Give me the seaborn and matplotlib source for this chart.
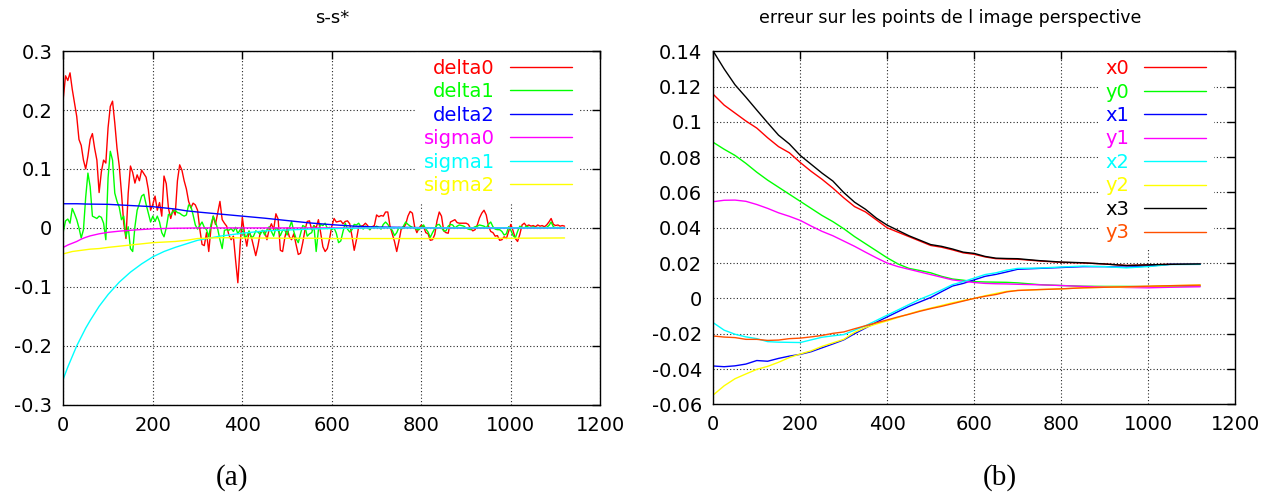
import numpy as np
import pandas as pd
import matplotlib
matplotlib.use("Agg")
import matplotlib.pyplot as plt
from matplotlib.ticker import FuncFormatter, MultipleLocator
import seaborn as sns

# ---------------------------------------------------------------- panel (a)
# noisy components, one sample every 5 iterations from 0 to 1120
iter_fine = np.arange(0, 1121, 5)

delta0 = [
    0.220, 0.258, 0.250, 0.263, 0.235, 0.212, 0.189, 0.150, 0.140, 0.115,
    0.100, 0.122, 0.150, 0.160, 0.135, 0.115, 0.060, 0.095, 0.115, 0.110,
    0.170, 0.206, 0.215, 0.178, 0.135, 0.105, 0.059, 0.008, -0.018, 0.059,
    0.105, 0.094, 0.076, 0.090, 0.080, 0.098, 0.092, 0.086, 0.065, 0.030,
    0.040, 0.054, 0.030, 0.043, 0.020, 0.088, 0.075, 0.033, 0.016, 0.031,
    0.022, 0.080, 0.107, 0.098, 0.080, 0.066, 0.045, 0.034, 0.042, 0.039,
    0.030, -0.002, -0.028, -0.030, -0.008, -0.040, 0.000, 0.020, 0.006, 0.026,
    0.045, 0.014, 0.008, 0.003, -0.012, -0.020, -0.014, -0.055, -0.093, -0.030,
    0.018, -0.010, -0.031, -0.006, -0.015, -0.031, -0.047, -0.030, -0.008, -0.005,
    -0.006, -0.020, -0.002, 0.007, -0.003, 0.024, 0.015, -0.038, -0.040, -0.016,
    0.000, -0.015, -0.020, -0.010, -0.028, -0.045, -0.043, -0.025, -0.003, 0.011,
    0.012, -0.003, 0.004, 0.000, 0.014, -0.008, -0.032, -0.040, -0.035, -0.018,
    0.003, 0.016, 0.010, 0.011, 0.012, 0.007, 0.011, 0.012, 0.007, -0.014,
    -0.038, -0.020, 0.002, 0.003, 0.004, 0.008, 0.004, -0.003, 0.002, 0.004,
    0.022, 0.019, 0.021, 0.020, 0.027, 0.027, 0.003, -0.010, -0.023, -0.040,
    -0.022, -0.002, 0.000, 0.006, 0.020, 0.028, 0.025, 0.002, -0.008, 0.000,
    0.005, 0.002, -0.008, -0.010, -0.021, -0.020, -0.011, 0.012, 0.027, 0.020,
    -0.005, -0.008, -0.009, 0.010, 0.012, 0.014, 0.009, 0.008, 0.008, 0.008,
    0.008, 0.006, -0.001, -0.005, -0.003, 0.005, 0.017, 0.025, 0.030, 0.022,
    0.003, -0.006, -0.008, -0.014, -0.013, -0.021, -0.020, -0.015, -0.018, -0.006,
    0.006, -0.005, -0.018, -0.023, -0.011, 0.005, 0.008, 0.003, 0.005, 0.003,
    0.004, 0.002, 0.005, 0.003, 0.004, 0.002, 0.005, 0.010, 0.016, 0.006,
    0.004, 0.005, 0.003, 0.004, 0.003,
]

delta1 = [
    -0.006, 0.012, 0.015, 0.008, 0.033, 0.024, 0.014, 0.000, -0.017, -0.003,
    0.052, 0.093, 0.070, 0.020, 0.018, 0.016, 0.020, 0.018, 0.008, -0.020,
    0.085, 0.130, 0.115, 0.059, 0.045, 0.035, 0.014, 0.020, -0.015, 0.002,
    -0.035, -0.040, 0.002, 0.030, 0.041, 0.054, 0.057, 0.040, 0.025, 0.010,
    0.020, 0.011, 0.020, 0.010, -0.008, -0.015, 0.000, 0.023, 0.022, 0.028,
    0.030, 0.026, 0.025, 0.022, 0.020, 0.022, 0.039, 0.037, 0.022, 0.005,
    -0.002, 0.004, 0.010, 0.001, -0.003, -0.015, 0.006, 0.020, 0.010, -0.002,
    -0.020, -0.035, -0.004, -0.003, -0.004, -0.001, -0.006, 0.001, -0.010, -0.003,
    0.001, -0.016, -0.014, -0.005, -0.017, -0.014, -0.005, -0.007, -0.011, -0.004,
    -0.012, -0.003, 0.002, -0.006, -0.014, 0.000, -0.004, -0.013, -0.004, -0.004,
    -0.012, 0.000, 0.011, -0.006, -0.018, -0.025, -0.010, 0.004, 0.002, -0.014,
    -0.010, -0.008, 0.004, -0.040, -0.003, 0.006, 0.004, 0.008, -0.001, 0.001,
    -0.003, 0.000, -0.009, -0.025, -0.022, -0.006, 0.008, -0.002, -0.007, -0.003,
    0.006, 0.005, 0.008, 0.002, -0.002, 0.003, 0.001, -0.003, 0.002, 0.000,
    0.003, 0.001, -0.002, 0.006, 0.010, 0.006, 0.000, -0.004, -0.013, -0.008,
    0.001, -0.002, 0.003, 0.010, 0.006, 0.003, 0.001, 0.000, -0.003, -0.003,
    0.002, 0.005, -0.002, -0.007, -0.016, -0.008, -0.001, 0.005, 0.006, 0.000,
    -0.005, -0.005, 0.003, 0.006, 0.005, 0.000, 0.003, 0.005, 0.004, 0.003,
    0.000, -0.002, -0.003, 0.000, 0.002, 0.003, 0.005, 0.004, 0.003, 0.000,
    0.006, 0.010, 0.002, -0.002, -0.003, -0.003, -0.006, -0.012, -0.010, 0.002,
    -0.004, -0.013, -0.017, -0.006, 0.003, 0.001, 0.000, 0.003, 0.001, 0.000,
    0.002, 0.000, 0.001, -0.001, 0.001, 0.000, 0.001, 0.004, 0.010, 0.002,
    0.000, 0.001, -0.001, 0.000, 0.000,
]

# smooth components
iter_left = [0, 10, 20, 30, 40, 50, 60, 80, 100, 125, 150, 175, 200, 225, 250,
             275, 300, 350, 400, 450, 500, 550, 600, 650, 700, 800, 900, 1000, 1120]

delta2 = [0.041, 0.041, 0.041, 0.041, 0.0408, 0.0405, 0.0404, 0.0402, 0.040, 0.039,
          0.038, 0.037, 0.036, 0.034, 0.032, 0.029, 0.027, 0.0235, 0.020, 0.0165,
          0.0125, 0.0085, 0.0055, 0.003, 0.0015, 0.0005, 0.0, 0.0, 0.0]
sigma0 = [-0.033, -0.029, -0.026, -0.023, -0.019, -0.016, -0.0135, -0.010, -0.0075, -0.0055,
          -0.004, -0.0027, -0.0015, -0.001, -0.0005, -0.0003, 0.0, 0.0, 0.0, 0.0,
          0.0, 0.0, 0.0, 0.0, 0.0, 0.0, 0.0, 0.0, 0.0]
sigma1 = [-0.256, -0.236, -0.218, -0.200, -0.185, -0.170, -0.157, -0.133, -0.113, -0.092,
          -0.075, -0.061, -0.049, -0.040, -0.033, -0.027, -0.021, -0.014, -0.009, -0.005,
          -0.0035, -0.002, -0.001, -0.0005, 0.0, 0.0, 0.0, 0.0, 0.0]
sigma2 = [-0.044, -0.042, -0.040, -0.039, -0.038, -0.037, -0.036, -0.035, -0.033, -0.031,
          -0.029, -0.027, -0.025, -0.024, -0.023, -0.021, -0.018, -0.0165, -0.017, -0.0172,
          -0.0175, -0.0175, -0.018, -0.018, -0.018, -0.018, -0.0178, -0.0175, -0.017]

# ---------------------------------------------------------------- panel (b)
iter_right = [0, 25, 50, 75, 100, 125, 150, 175, 200, 225, 250, 275, 300, 325, 350,
              375, 400, 425, 450, 475, 500, 525, 550, 575, 600, 625, 650, 675, 700,
              750, 800, 850, 900, 950, 1000, 1050, 1120]

x0 = [0.1156, 0.1095, 0.105, 0.1005, 0.0965, 0.091, 0.086, 0.0825, 0.077, 0.072,
      0.0675, 0.0625, 0.057, 0.052, 0.049, 0.0445, 0.040, 0.0375, 0.035, 0.0325,
      0.030, 0.029, 0.0275, 0.0258, 0.025, 0.0235, 0.0225, 0.0223, 0.0222,
      0.0212, 0.0204, 0.0201, 0.0195, 0.0187, 0.019, 0.0193, 0.0195]
y0 = [0.0884, 0.0845, 0.081, 0.0765, 0.0715, 0.067, 0.063, 0.059, 0.055, 0.051,
      0.047, 0.0435, 0.0395, 0.035, 0.031, 0.027, 0.023, 0.0195, 0.017, 0.0158,
      0.0145, 0.0125, 0.011, 0.0103, 0.0095, 0.0093, 0.0092, 0.0091, 0.0088,
      0.0078, 0.0073, 0.0069, 0.0068, 0.0068, 0.0067, 0.0069, 0.0070]
x1 = [-0.0383, -0.0387, -0.0382, -0.0372, -0.0352, -0.0356, -0.034, -0.0327, -0.0317, -0.0302,
      -0.028, -0.0258, -0.0235, -0.020, -0.0168, -0.0135, -0.0105, -0.0075, -0.0045, -0.002,
      0.0005, 0.0038, 0.007, 0.0085, 0.0105, 0.0125, 0.0136, 0.015, 0.0165,
      0.017, 0.0175, 0.018, 0.018, 0.0177, 0.0183, 0.0193, 0.0193]
y1 = [0.0548, 0.0556, 0.0557, 0.055, 0.0532, 0.051, 0.0485, 0.0465, 0.0442, 0.041,
      0.038, 0.0355, 0.0325, 0.0295, 0.0262, 0.023, 0.020, 0.018, 0.0165, 0.015,
      0.0135, 0.012, 0.0105, 0.0097, 0.009, 0.0085, 0.0083, 0.0082, 0.008,
      0.0077, 0.0073, 0.0068, 0.0065, 0.0062, 0.006, 0.0063, 0.0066]
x2 = [-0.0138, -0.018, -0.0203, -0.0218, -0.0228, -0.0245, -0.0248, -0.0249, -0.025, -0.0235,
      -0.022, -0.0212, -0.0205, -0.018, -0.0155, -0.0125, -0.0095, -0.0065, -0.0035, -0.0005,
      0.002, 0.0048, 0.0078, 0.0095, 0.0115, 0.0135, 0.0145, 0.016, 0.017,
      0.0172, 0.0178, 0.0183, 0.018, 0.0173, 0.018, 0.0192, 0.0193]
y2 = [-0.0547, -0.0495, -0.0455, -0.0428, -0.0402, -0.0385, -0.0362, -0.0335, -0.0315, -0.0297,
      -0.0272, -0.0252, -0.0232, -0.0192, -0.0165, -0.0145, -0.0127, -0.0108, -0.0088, -0.007,
      -0.0055, -0.004, -0.0025, -0.0012, 0.0, 0.0015, 0.0028, 0.004, 0.0045,
      0.005, 0.0054, 0.006, 0.0063, 0.0065, 0.0068, 0.0072, 0.0076]
x3 = [0.140, 0.130, 0.121, 0.114, 0.1067, 0.0995, 0.0925, 0.0875, 0.081, 0.076,
      0.071, 0.0665, 0.060, 0.0545, 0.0505, 0.0455, 0.0415, 0.0385, 0.0355, 0.033,
      0.0305, 0.0295, 0.028, 0.0262, 0.0255, 0.0238, 0.0228, 0.0226, 0.0225,
      0.0214, 0.0206, 0.0202, 0.0195, 0.0186, 0.019, 0.0193, 0.0195]
y3 = [-0.0213, -0.0219, -0.0222, -0.0232, -0.0232, -0.0238, -0.0236, -0.0228, -0.0225, -0.0218,
      -0.021, -0.0198, -0.019, -0.0172, -0.0155, -0.0138, -0.0122, -0.0105, -0.009, -0.0073,
      -0.0058, -0.0045, -0.003, -0.0015, 0.0, 0.0012, 0.0022, 0.0037, 0.0045,
      0.005, 0.0054, 0.006, 0.0063, 0.0066, 0.0069, 0.0072, 0.0075]

# ---------------------------------------------------------------- tables
def long_table(x_and_series):
    frames = []
    for name, xs, ys in x_and_series:
        frames.append(pd.DataFrame({"iteration": xs, "value": ys, "series": name}))
    return pd.concat(frames, ignore_index=True)

left_names = ["delta0", "delta1", "delta2", "sigma0", "sigma1", "sigma2"]
left_df = long_table([
    ("delta0", iter_fine, delta0), ("delta1", iter_fine, delta1),
    ("delta2", iter_left, delta2), ("sigma0", iter_left, sigma0),
    ("sigma1", iter_left, sigma1), ("sigma2", iter_left, sigma2),
])
right_names = ["x0", "y0", "x1", "y1", "x2", "y2", "x3", "y3"]
right_df = long_table([(n, iter_right, v) for n, v in
                       zip(right_names, [x0, y0, x1, y1, x2, y2, x3, y3])])

gp_colors = ["#ff0000", "#00ff00", "#0000ff", "#ff00ff", "#00ffff", "#ffff00",
             "#000000", "#ff5000"]

# ---------------------------------------------------------------- style
sns.set_theme(style="white")
plt.rcParams["font.family"] = ["DejaVu Sans"]
plt.rcParams.update({
    "axes.edgecolor": "black",
    "axes.linewidth": 1.0,
    "xtick.color": "black",
    "ytick.color": "black",
    "text.color": "black",
})

fig = plt.figure(figsize=(12.79, 4.97), dpi=100)
ax_a = fig.add_axes([0.0495, 0.1855, 0.4199, 0.7118])
ax_b = fig.add_axes([0.5577, 0.1865, 0.4079, 0.7103])


def plain(v, pos):
    return f"{round(v, 6) + 0.0:g}"


def dress(ax, df, names, ystep, ylim, legend_anchor):
    palette = dict(zip(names, gp_colors[:len(names)]))
    sns.lineplot(data=df, x="iteration", y="value", hue="series", hue_order=names,
                 palette=palette, estimator=None, sort=False, linewidth=1.0,
                 legend=False, ax=ax)
    ax.set_xlim(0, 1200)
    ax.set_ylim(*ylim)
    ax.xaxis.set_major_locator(MultipleLocator(200))
    ax.yaxis.set_major_locator(MultipleLocator(ystep))
    ax.xaxis.set_major_formatter(FuncFormatter(plain))
    ax.yaxis.set_major_formatter(FuncFormatter(plain))
    ax.set_xlabel("")
    ax.set_ylabel("")
    ax.grid(True, color="black", linestyle=(0, (1, 2)), linewidth=0.8, alpha=0.85)
    ax.tick_params(direction="in", length=6, width=1, top=True, right=True,
                   labelsize=14, pad=8)
    for sp in ax.spines.values():
        sp.set_visible(True)
        sp.set_color("black")
        sp.set_linewidth(1.0)
    lines = ax.get_lines()[:len(names)]
    leg = ax.legend(lines, names, loc="upper right", bbox_to_anchor=legend_anchor,
                    borderaxespad=0, frameon=True, facecolor="white",
                    edgecolor="none", framealpha=1, fancybox=False,
                    markerfirst=False, labelcolor="linecolor", fontsize=14,
                    handlelength=3.2, handletextpad=0.77, labelspacing=0.23,
                    borderpad=0.4)
    leg.set_zorder(2.4)


dress(ax_a, left_df, left_names, 0.1, (-0.3, 0.3), (0.962, 1.0))
dress(ax_b, right_df, right_names, 0.02, (-0.06, 0.14), (0.960, 1.0))

fig.text(332 / 1279, 1 - 18 / 497, "s-s*", fontsize=13, ha="center", va="center")
fig.text(950 / 1279, 1 - 18 / 497, "erreur sur les points de l image perspective",
         fontsize=12.5, ha="center", va="center")

fig.text(232 / 1279, 1 - 478 / 497, "(a)", family="Liberation Serif",
         fontsize=21, ha="center", va="center")
fig.text(1000 / 1279, 1 - 478 / 497, "(b)", family="Liberation Serif",
         fontsize=21, ha="center", va="center")

fig.savefig("out.png", dpi=100)
